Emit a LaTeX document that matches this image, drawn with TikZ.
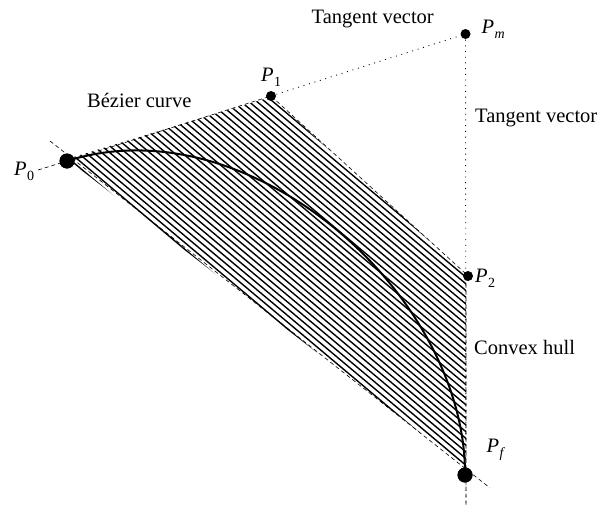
\documentclass[tikz,border=0pt]{standalone}
\usepackage{fontspec}
\setmainfont{Liberation Serif}
\newcommand\Psub[1]{\textit{P}\kern0.3pt\raisebox{-5pt}{\fontsize{14}{14}\selectfont #1}}
\begin{document}
\begin{tikzpicture}[x=1pt,y=-1pt,
 bigdot/.style={circle,fill=black,inner sep=0pt,minimum size=15pt},
 smalldot/.style={circle,fill=black,inner sep=0pt,minimum size=10pt},
 lbl/.style={anchor=base west,inner sep=0pt,font=\fontsize{20.5}{24}\selectfont},
 hulledge/.style={line width=0.6pt,dash pattern=on 4pt off 3pt},
 tangent/.style={line width=0.9pt,dash pattern=on 0.9pt off 4.8pt},
 hatch/.style={line width=1.4pt},
 curvestyle/.style={line width=2pt}]
\useasboundingbox (0,0) rectangle (609,508);
% hull corners
\coordinate (A) at (67,159);
\coordinate (B) at (271,97);
\coordinate (C) at (466,274);
\coordinate (D) at (466,468);
% hatching
\begin{scope}
\clip (A) -- (B) -- (C) -- (D) -- cycle;
\foreach \i in {-18,...,21} {\draw[hatch] (\i*8-1000,-840) -- (\i*8+1000,840);}
\end{scope}
% points
\node[bigdot] (P0) at (67,161) {};
\node[smalldot] (P1) at (271,96) {};
\node[smalldot] (Pm) at (465.5,34) {};
\node[smalldot] (P2) at (468,276) {};
\node[bigdot] (Pf) at (465,475) {};
% auxiliary ends
\coordinate (E0) at (38,170);
\coordinate (L1) at (50,141);
\coordinate (L2) at (490,488);
\coordinate (V) at (466,506);
% hull edges
\draw[hulledge] (E0) -- (P0.center) -- (P1.center) -- (C) -- (V);
\draw[hulledge] (L1) -- (L2);
% tangent vectors
\draw[tangent] (P1.center) -- (Pm.center);
\draw[tangent] (Pm.center) -- (V);
% curve
\draw[curvestyle] (P0.center) .. controls (250,103) and (466,294) .. (Pf.center);
% redraw dots on top
\node[bigdot] at (P0) {};
\node[bigdot] at (Pf) {};
% labels
\node[lbl] (t1) at (311.5,24) {Tangent vector};
\node[lbl] (t2) at (475,122) {Tangent vector};
\node[lbl] (bc) at (87,107) {Bézier curve};
\node[lbl] (ch) at (474,354) {Convex hull};
\node[lbl] (l0) at (14,175) {\Psub{0}};
\node[lbl] (l1) at (261,82) {\Psub{1}};
\node[lbl] (lm) at (481.5,34) {\Psub{\textit{m}}};
\node[lbl] (l2) at (475,282) {\Psub{2}};
\node[lbl] (lf) at (486.5,452) {\Psub{\textit{f}}};
\end{tikzpicture}
\end{document}
